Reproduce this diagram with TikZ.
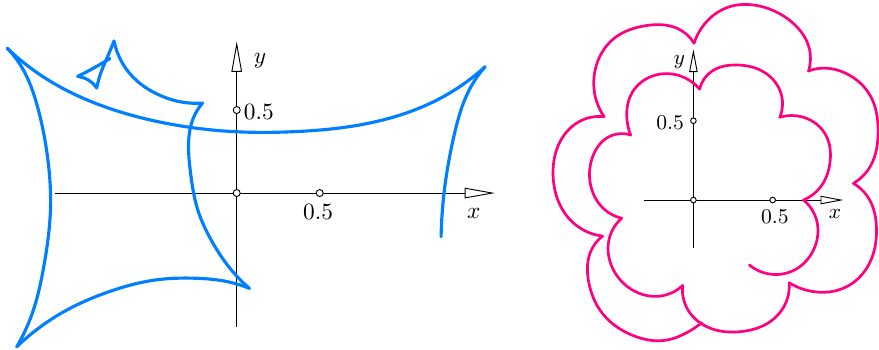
\documentclass[tikz,border=0pt]{standalone}
\usepackage{amsmath}
\usepackage{amssymb}
\usepackage{tikz}
\usetikzlibrary{arrows.meta,hobby}

\definecolor{curveblue}{RGB}{0,128,255}
\definecolor{curvepink}{RGB}{255,0,128}

\begin{document}
\begin{tikzpicture}[x=2.5cm,y=2.5cm,
  axis/.style={line width=0.4pt,-{Triangle[open,length=13pt,width=4.5pt]}},
  smallaxis/.style={line width=0.4pt,-{Triangle[open,length=9.8pt,width=3.6pt]}},
  tick/.style={circle,draw,fill=white,line width=0.4pt,inner sep=0pt,minimum size=3pt},
  smalltick/.style={tick,minimum size=2.4pt},
  bluecurve/.style={curveblue,line width=1.35pt,line cap=round,use Hobby shortcut},
  pinkcurve/.style={curvepink,line width=1.15pt,line cap=round,use Hobby shortcut}]

\useasboundingbox (-1.426,-0.940) rectangle (3.869,1.163);

%% left: curve with cusps
\draw[axis] (-1.095,0) -- (1.556,0);
\draw[axis] (0,-0.807) -- (0,0.913);

% small loop first, then the big arcs, cusp to cusp
\draw[bluecurve] (-0.763,0.811) .. (-0.860,0.754) .. (-0.958,0.703);
\draw[bluecurve] (-0.958,0.703) .. (-0.893,0.681) .. (-0.843,0.633);
\draw[bluecurve] (-0.843,0.633) .. (-0.817,0.729) .. (-0.787,0.801) .. (-0.739,0.916);
\draw[bluecurve] (-0.739,0.916) .. (-0.690,0.785) .. (-0.600,0.675) .. (-0.470,0.592)
  .. (-0.330,0.548) .. (-0.206,0.542);
\draw[bluecurve] (-0.206,0.542) .. (-0.262,0.450) .. (-0.290,0.300) .. (-0.278,0.120)
  .. (-0.235,-0.100) .. (-0.150,-0.290) .. (-0.040,-0.454) .. (0.076,-0.574);
\draw[bluecurve] (0.076,-0.574) .. (-0.050,-0.535) .. (-0.250,-0.513) .. (-0.500,-0.525)
  .. (-0.763,-0.592) .. (-1.024,-0.705) .. (-1.325,-0.926);
\draw[bluecurve] (-1.325,-0.926) .. (-1.230,-0.720) .. (-1.160,-0.430) .. (-1.122,-0.100)
  .. (-1.140,0.220) .. (-1.200,0.520) .. (-1.290,0.750) .. (-1.382,0.872);
\draw[bluecurve] (-1.382,0.872) .. (-1.150,0.690) .. (-0.823,0.530) .. (-0.450,0.425)
  .. (-0.050,0.372) .. (0.350,0.370) .. (0.750,0.412) .. (1.225,0.570) .. (1.496,0.761);
\draw[bluecurve] (1.496,0.761) .. (1.400,0.620) .. (1.310,0.350) .. (1.255,0.050)
  .. (1.231,-0.263);

\node[tick] (o) at (0,0) {};
\node[tick] (xtick) at (0.5,0) {};
\node[tick] (ytick) at (0,0.5) {};
\node (xval) at (0.490,-0.113) {$0.5$};
\node (yval) at (0.133,0.490) {$0.5$};
\node (xlab) at (1.428,-0.120) {$x$};
\node (ylab) at (0.140,0.798) {$y$};

%% right: spiral of arches
\begin{scope}[shift={(2.751,-0.042)},scale=0.955,font=\small]
\draw[smallaxis] (-0.309,0) -- (0.946,0);
\draw[smallaxis] (0,-0.305) -- (0,0.951);

% inner turn
\draw[pinkcurve] (0.353,-0.410) .. (0.470,-0.465) .. (0.640,-0.440) .. (0.760,-0.310)
  .. (0.778,-0.130) .. (0.694,0);
\draw[pinkcurve] (0.694,0) .. (0.800,0.080) .. (0.862,0.240) .. (0.835,0.410)
  .. (0.700,0.520) .. (0.545,0.522);
\draw[pinkcurve] (0.545,0.522) .. (0.550,0.680) .. (0.440,0.810) .. (0.270,0.852)
  .. (0.120,0.815) .. (0.039,0.700);
\draw[pinkcurve] (0.039,0.700) .. (-0.080,0.782) .. (-0.250,0.785) .. (-0.385,0.680)
  .. (-0.420,0.520) .. (-0.396,0.410);
\draw[pinkcurve] (-0.396,0.410) .. (-0.540,0.395) .. (-0.640,0.260) .. (-0.645,0.080)
  .. (-0.560,-0.060) .. (-0.452,-0.115);
\draw[pinkcurve] (-0.452,-0.115) .. (-0.530,-0.240) .. (-0.510,-0.430) .. (-0.380,-0.570)
  .. (-0.210,-0.606) .. (-0.068,-0.539);
% outer turn
\draw[pinkcurve] (-0.068,-0.539) .. (-0.030,-0.700) .. (0.110,-0.810) .. (0.300,-0.830)
  .. (0.480,-0.770) .. (0.590,-0.630) .. (0.604,-0.522);
\draw[pinkcurve] (0.604,-0.522) .. (0.760,-0.578) .. (0.960,-0.550) .. (1.110,-0.400)
  .. (1.155,-0.180) .. (1.100,0.020) .. (1.009,0.105);
\draw[pinkcurve] (1.009,0.105) .. (1.120,0.220) .. (1.165,0.420) .. (1.120,0.650)
  .. (0.960,0.800) .. (0.800,0.831) .. (0.726,0.814);
\draw[pinkcurve] (0.726,0.814) .. (0.730,0.960) .. (0.640,1.105) .. (0.450,1.215)
  .. (0.230,1.220) .. (0.070,1.110) .. (0.004,0.989);
\draw[pinkcurve] (0.004,0.989) .. (-0.100,1.082) .. (-0.300,1.100) .. (-0.500,1.020)
  .. (-0.620,0.820) .. (-0.610,0.620) .. (-0.563,0.526);
\draw[pinkcurve] (-0.563,0.526) .. (-0.720,0.495) .. (-0.850,0.350) .. (-0.885,0.150)
  .. (-0.820,-0.070) .. (-0.694,-0.189) .. (-0.573,-0.227);
\draw[pinkcurve] (-0.573,-0.227) .. (-0.650,-0.330) .. (-0.660,-0.520) .. (-0.570,-0.720)
  .. (-0.380,-0.855) .. (-0.180,-0.885) .. (-0.030,-0.830) .. (0.053,-0.774);

\node[smalltick] (o2) at (0,0) {};
\node[smalltick] (xtick2) at (0.5,0) {};
\node[smalltick] (ytick2) at (0,0.5) {};
\node (xval2) at (0.514,-0.105) {$0.5$};
\node (yval2) at (-0.147,0.489) {$0.5$};
\node (xlab2) at (0.893,-0.090) {$x$};
\node (ylab2) at (-0.089,0.869) {$y$};
\end{scope}

\end{tikzpicture}
\end{document}
